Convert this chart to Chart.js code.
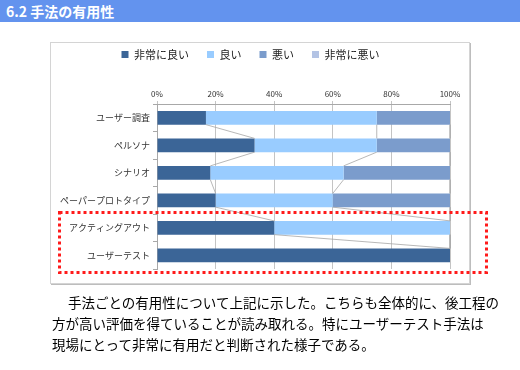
<!DOCTYPE html>
<html>
<head>
<meta charset="utf-8">
<script src="https://cdn.jsdelivr.net/npm/chart.js@4"></script>
<style>
  body { margin: 0; width: 520px; height: 370px; position: relative; background: #fff; overflow: hidden;
         font-family: "Noto Sans CJK JP", sans-serif; }
  #head { position: absolute; left: 0; top: 0; width: 520px; height: 22px; background: #6393ee;
          color: #fff; font-size: 14px; font-weight: bold; line-height: 22px; padding-left: 6px; box-sizing: border-box; }
  #frame { position: absolute; left: 50px; top: 42px; width: 418px; height: 240px;
           border: 1px solid #d4d4d4; box-shadow: 1px 1px 0 #bdbdbd; }
  #wrap { position: absolute; left: 51px; top: 31px; width: 418px; height: 252px; }
  #note { position: absolute; left: 52px; top: 292px; width: 470px; font-size: 13.5px; line-height: 21px;
          color: #000; text-indent: 16px; margin: 0; white-space: nowrap; }
  #mark { position: absolute; left: 0; top: 0; }
</style>
</head>
<body>
<div id="head">6.2 手法の有用性</div>
<div id="frame"></div>
<div id="wrap"><canvas id="myChart"></canvas></div>
<svg id="mark" width="520" height="370">
  <rect x="59.5" y="212.5" width="427" height="60" fill="none" stroke="#ff1a1a" stroke-width="3" stroke-dasharray="3 3"/>
</svg>
<p id="note">手法ごとの有用性について上記に示した。こちらも全体的に、後工程の<br>方が高い評価を得ていることが読み取れる。特にユーザーテスト手法は<br>現場にとって非常に有用だと判断された様子である。</p>
<script>
const categories = ['ユーザー調査', 'ペルソナ', 'シナリオ', 'ペーパープロトタイプ', 'アクティングアウト', 'ユーザーテスト'];
const seriesNames = ['非常に良い', '良い', '悪い', '非常に悪い'];
const veryGood = [16.7, 33.3, 18.2, 20, 40, 100];
const good = [58.3, 41.7, 45.5, 40, 60, 0];
const bad = [25, 25, 36.3, 40, 0, 0];
const veryBad = [0, 0, 0, 0, 0, 0];
const colors = ['#3b6597', '#99ccff', '#7b9ccc', '#b3c3e4'];

Chart.defaults.font.family = '"Noto Sans CJK JP", sans-serif';

// Excel style series lines joining segment ends of neighbouring bars
const seriesLines = {
    id: 'seriesLines',
    afterDatasetsDraw(chart) {
        const ctx = chart.ctx;
        ctx.save();
        ctx.strokeStyle = '#a6a6a6';
        ctx.lineWidth = 0.8;
        chart.data.datasets.forEach((ds, i) => {
            const bars = chart.getDatasetMeta(i).data;
            for (let j = 0; j < bars.length - 1; j++) {
                const a = bars[j], b = bars[j + 1];
                ctx.beginPath();
                ctx.moveTo(a.x, a.y + a.height / 2);
                ctx.lineTo(b.x, b.y - b.height / 2);
                ctx.stroke();
            }
        });
        ctx.restore();
    }
};

const data = {
    labels: categories,
    datasets: [veryGood, good, bad, veryBad].map((values, i) => ({
        label: seriesNames[i],
        data: values,
        backgroundColor: colors[i],
        barPercentage: 0.5,
        categoryPercentage: 1,
    }))
};

const config = {
    type: 'bar',
    data: data,
    options: {
        indexAxis: 'y',
        animation: false,
        responsive: true,
        maintainAspectRatio: false,
        layout: { padding: { left: 0, right: 19, top: 0, bottom: 14 } },
        plugins: {
            legend: {
                position: 'top',
                labels: { boxWidth: 7, boxHeight: 7, padding: 18, color: '#222', font: { size: 11 } }
            },
            tooltip: { enabled: false }
        },
        scales: {
            x: {
                position: 'top',
                stacked: true,
                min: 0,
                max: 100,
                ticks: { stepSize: 20, callback: v => v + '%', color: '#333', font: { size: 8 }, padding: 2 },
                grid: { color: '#c4c4c4', tickLength: 3 },
                border: { color: '#a8a8a8' },
                afterFit: scale => { scale.height = 34; }
            },
            y: {
                stacked: true,
                ticks: { color: '#333', font: { size: 9 }, padding: 3 },
                grid: { drawOnChartArea: false, offset: true, tickLength: 4, color: '#a8a8a8' },
                border: { color: '#a8a8a8' },
                afterFit: scale => { scale.width = 106; }
            }
        }
    },
    plugins: [seriesLines]
};

new Chart(document.getElementById('myChart'), config);
</script>
</body>
</html>
